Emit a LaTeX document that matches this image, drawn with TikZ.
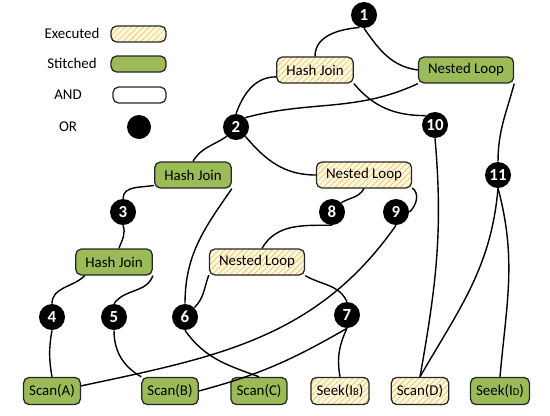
\documentclass[tikz,border=0pt]{standalone}
\usepackage{fontspec}
\setmainfont{Carlito}
\usepackage{tikz}
\usetikzlibrary{shapes, arrows, positioning, calc, patterns.meta}

\definecolor{stgreen}{HTML}{9BBB59}
\definecolor{exfill}{HTML}{FFF8E3}
\definecolor{exline}{HTML}{F5C24A}

\tikzset{
  box/.style={draw=black!85, line width=0.9pt, rounded corners=4pt, minimum height=0.65cm, inner xsep=0.24cm, inner ysep=0pt},
  executed/.style={box, preaction={fill=exfill}, pattern={Lines[angle=45,distance=3pt,line width=0.45pt]}, pattern color=exline},
  stitched/.style={box, fill=stgreen},
  andbox/.style={box, fill=white},
  ornode/.style={circle, fill=black, text=white, font=\fontsize{12}{13}\selectfont\bfseries, minimum size=0.65cm, inner sep=0pt},
  leaf/.style={inner xsep=0.14cm, minimum height=0.68cm},
  legbox/.style={minimum width=1.375cm, minimum height=0.4cm},
  link/.style={line width=1pt},
}

\begin{document}
\begin{tikzpicture}[x=0.025cm, y=0.025cm, font=\fontsize{10.6}{12}\selectfont]
	\useasboundingbox (0,0) rectangle (550,-415);
	% legend
	\node (lgEx) at (72,-33) {Executed};
	\node[executed, legbox] (lgExBox) at (138.5,-34) {};
	\node (lgSt) at (72,-63) {Stitched};
	\node[stitched, legbox] (lgStBox) at (138.5,-64) {};
	\node (lgAnd) at (68,-95) {AND};
	\node[andbox, legbox, minimum width=1.325cm] (lgAndBox) at (139.5,-95) {};
	\node (lgOr) at (68,-127) {OR};
	\node[ornode, minimum size=0.6cm] (lgOrDot) at (139,-127) {};
	% plan nodes
	\node[ornode] (n1) at (364,-15) {1};
	\node[executed] (hjA) at (315,-70) {Hash Join};
	\node[stitched] (nlA) at (466,-70) {Nested Loop};
	\node[ornode] (n2) at (236,-127) {2};
	\node[ornode] (n10) at (435,-125) {10};
	\node[stitched] (hjB) at (193,-175) {Hash Join};
	\node[executed] (nlB) at (364,-175) {Nested Loop};
	\node[ornode] (n11) at (498,-175) {11};
	\node[ornode] (n3) at (123,-212) {3};
	\node[ornode] (n8) at (332,-212) {8};
	\node[ornode] (n9) at (396,-212) {9};
	\node[stitched] (hjC) at (114,-262) {Hash Join};
	\node[executed] (nlC) at (257,-262) {Nested Loop};
	\node[ornode] (n4) at (52,-317) {4};
	\node[ornode] (n5) at (114,-317) {5};
	\node[ornode] (n6) at (185,-317) {6};
	\node[ornode] (n7) at (347,-315) {7};
	\node[stitched, leaf] (sA) at (52,-391) {Scan(A)};
	\node[stitched, leaf] (sB) at (170,-391) {Scan(B)};
	\node[stitched, leaf] (sC) at (259,-391) {Scan(C)};
	\node[executed, leaf] (sIB) at (340,-391) {Seek(I{\fontsize{7.5}{8}\selectfont B})};
	\node[executed, leaf] (sD) at (420,-391) {Scan(D)};
	\node[stitched, leaf] (sID) at (500,-391) {Seek(I{\fontsize{7.5}{8}\selectfont D})};
	% edges
	\draw[link] (hjA.north) to[out=90,in=185] (n1.250);
	\draw[link] (n1.south) to[out=-55,in=172] (nlA.west);
	\draw[link] (hjA.190) to[out=180,in=70] (n2.north);
	\draw[link] (nlA.south west) to[out=-155,in=15] (n2.north east);
	\draw[link] (hjA.south east) to[out=-50,in=180] (n10.north west);
	\draw[link] (nlA.south east) to[out=-105,in=90] (n11.north);
	\draw[link] (n10.south) to[out=-85,in=80] (sD.north);
	\draw[link] (n11.south) to[out=-95,in=60] (sD.north);
	\draw[link] (n11.south) to[out=-75,in=85] (sID.north);
	\draw[link] (n2.south west) to[out=215,in=60] (hjB.north);
	\draw[link] (n2.south east) to[out=-50,in=180] (nlB.west);
	\draw[link] (hjB.195) to[out=190,in=90] (n3.north);
	\draw[link] (hjB.south east) to[out=-125,in=90] (n6.north);
	\draw[link] (n3.south) to[out=-70,in=70] (hjC.70);
	\draw[link] (hjC.205) to[out=-135,in=90] (n4.north);
	\draw[link] (hjC.south east) to[out=-110,in=55] (n5.north);
	\draw[link] (n4.south) to[out=-100,in=100] (sA.north);
	\draw[link] (n5.south) to[out=-90,in=150] (sB.north west);
	\draw[link] (n6.south) to[out=-55,in=160] (sC.north);
	\draw[link] (nlB.south) to[out=-120,in=30] (n8.north east);
	\draw[link] (nlB.-15) to[out=-35,in=40] (n9.east);
	\draw[link] (n8.south) to[out=180,in=60] (nlC.70);
	\draw[link] (n9.south) to[out=-125,in=12] (sA.10);
	\draw[link] (nlC.195) to[out=-110,in=45] (n6.north east);
	\draw[link] (nlC.south east) to[out=-30,in=115] (n7.north);
	\draw[link] (n7.south) to[out=-150,in=15] (sB.east);
	\draw[link] (n7.south) to[out=-115,in=100] (sIB.north);
\end{tikzpicture}
\end{document}
